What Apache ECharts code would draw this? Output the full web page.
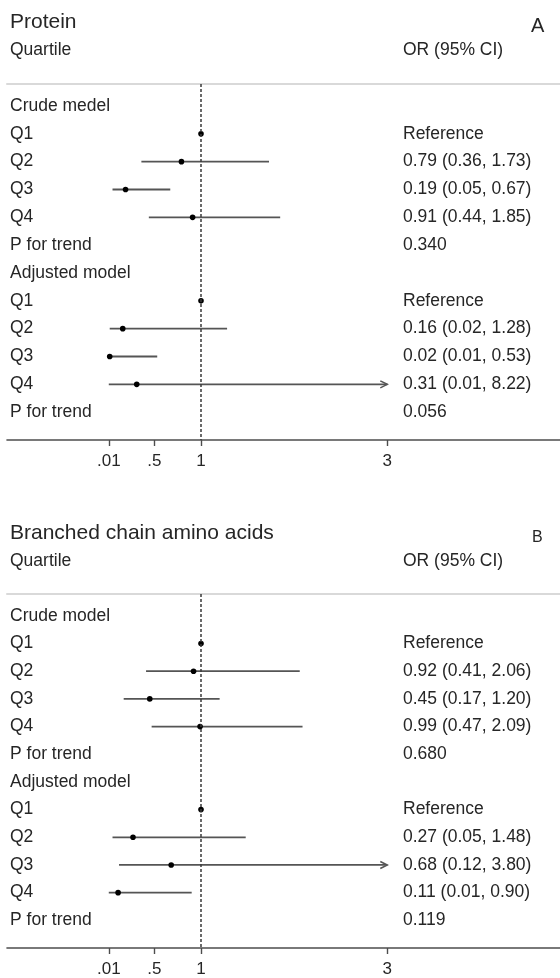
<!DOCTYPE html>
<html><head><meta charset="utf-8">
<script src="https://cdn.jsdelivr.net/npm/echarts@6/dist/echarts.min.js"></script>
<style>html,body{margin:0;padding:0;background:#fff}#c{width:560px;height:978px}</style>
</head><body><div id="c"></div>
<script>
// ---- data ----
const rowLabelsA = ['Crude medel','Q1','Q2','Q3','Q4','P for trend','Adjusted model','Q1','Q2','Q3','Q4','P for trend'];
const rowLabelsB = ['Crude model','Q1','Q2','Q3','Q4','P for trend','Adjusted model','Q1','Q2','Q3','Q4','P for trend'];
const orA   = [null, 1, 0.79, 0.19, 0.91, null, null, 1, 0.16, 0.02, 0.31, null];
const lowA  = [null, null, 0.36, 0.05, 0.44, null, null, null, 0.02, 0.01, 0.01, null];
const highA = [null, null, 1.73, 0.67, 1.85, null, null, null, 1.28, 0.53, 8.22, null];
const pTrendA = ['0.340', '0.056'];
const orB   = [null, 1, 0.92, 0.45, 0.99, null, null, 1, 0.27, 0.68, 0.11, null];
const lowB  = [null, null, 0.41, 0.17, 0.47, null, null, null, 0.05, 0.12, 0.01, null];
const highB = [null, null, 2.06, 1.20, 2.09, null, null, null, 1.48, 3.80, 0.90, null];
const pTrendB = ['0.680', '0.119'];
const tickValues = [0.01, 0.5, 1, 3];
const tickLabels = ['.01', '.5', '1', '3'];
const refValue = 1;
const axisCap = 3;

// ---- helpers ----
const FONT = '"Liberation Sans", Arial, Helvetica, sans-serif';
const TXT = '#262626';
const LINE = '#555555';

function rightTexts(labels, ors, lows, highs, pTrend) {
  let p = 0;
  return labels.map((l, i) => {
    if (l === 'P for trend') return pTrend[p++];
    if (ors[i] == null) return '';
    if (lows[i] == null) return 'Reference';
    return ors[i].toFixed(2) + ' (' + lows[i].toFixed(2) + ', ' + highs[i].toFixed(2) + ')';
  });
}

function makeRender(labels, ors, lows, highs, rights) {
  return function (params, api) {
    const i = params.dataIndex;
    const cs = params.coordSys;
    const y = api.coord([0, i])[1];
    const children = [];
    children.push({ type: 'text', style: { text: labels[i], x: cs.x + 3, y: y, align: 'left', verticalAlign: 'middle', fontSize: 17.5, fontFamily: FONT, fill: TXT } });
    children.push({ type: 'text', style: { text: rights[i], x: cs.x + 396, y: y, align: 'left', verticalAlign: 'middle', fontSize: 17.5, fontFamily: FONT, fill: TXT } });
    if (lows[i] != null) {
      const x0 = api.coord([lows[i], i])[0];
      const x1 = api.coord([Math.min(highs[i], axisCap), i])[0];
      children.push({ type: 'line', shape: { x1: x0, y1: y, x2: x1, y2: y }, style: { stroke: LINE, lineWidth: 1.8 } });
      if (highs[i] > axisCap) {
        children.push({ type: 'polyline', shape: { points: [[x1 - 7, y - 3.5], [x1, y], [x1 - 7, y + 3.5]] }, style: { stroke: LINE, lineWidth: 1.5, fill: null } });
      }
    }
    if (ors[i] != null) {
      const p = api.coord([ors[i], i]);
      children.push({ type: 'circle', shape: { cx: p[0], cy: p[1], r: 2.8 }, style: { fill: '#000' } });
    }
    return { type: 'group', children };
  };
}

const rightA = rightTexts(rowLabelsA, orA, lowA, highA, pTrendA);
const rightB = rightTexts(rowLabelsB, orB, lowB, highB, pTrendB);

const X_MIN = -1.0827, X_MAX = 4.854;
const Y_MIN = -0.79, Y_MAX = 12.0;

function mainX(gi) {
  return {
    type: 'value', gridIndex: gi, position: 'bottom', min: X_MIN, max: X_MAX,
    splitLine: { show: false },
    axisLine: { show: true, onZero: false, lineStyle: { color: '#4d4d4d', width: 1.6 } },
    axisTick: { show: true, length: 6, inside: false, customValues: tickValues, lineStyle: { color: '#4d4d4d', width: 1.4 } },
    axisLabel: { show: true, margin: 13, customValues: tickValues, color: TXT, fontSize: 17, fontFamily: FONT,
      formatter: v => { const k = tickValues.findIndex(t => Math.abs(t - v) < 1e-9); return k >= 0 ? tickLabels[k] : ''; } }
  };
}
function sepX(gi) {
  return {
    type: 'value', gridIndex: gi, position: 'top', min: X_MIN, max: X_MAX,
    splitLine: { show: false }, axisTick: { show: false }, axisLabel: { show: false },
    axisLine: { show: true, onZero: false, lineStyle: { color: '#d9d9d9', width: 2 } }
  };
}
function yAx(gi) {
  return { type: 'value', gridIndex: gi, inverse: true, min: Y_MIN, max: Y_MAX, show: false, splitLine: { show: false } };
}
function titleItem(text, left, top, size) {
  return { text, left, top, padding: 0, textStyle: { fontSize: size, fontWeight: 'normal', color: TXT, fontFamily: FONT, lineHeight: size } };
}
function refLine(xi, yi) {
  return {
    type: 'line', xAxisIndex: xi, yAxisIndex: yi, data: [], z: 1, silent: true,
    markLine: { silent: true, symbol: ['none', 'none'], animation: false, label: { show: false },
      lineStyle: { type: [3, 2], color: '#3a3a3a', width: 1.5 }, data: [{ xAxis: refValue }] }
  };
}
const rows = rowLabelsA.map((_, i) => [0, i]);

const chart = echarts.init(document.getElementById('c'), null, { renderer: 'canvas' });
chart.setOption({
  animation: false,
  backgroundColor: '#fff',
  title: [
    titleItem('Protein', 10, 12, 21),
    titleItem('Quartile', 10, 41, 17.5),
    titleItem('OR (95% CI)', 403, 41, 17.5),
    titleItem('A', 531, 16, 20),
    titleItem('Branched chain amino acids', 10, 523, 21),
    titleItem('Quartile', 10, 552, 17.5),
    titleItem('OR (95% CI)', 403, 552, 17.5),
    titleItem('B', 532, 530, 16)
  ],
  grid: [
    { left: 7, right: 0, top: 84, height: 356 },
    { left: 7, right: 0, top: 594, height: 356 }
  ],
  xAxis: [mainX(0), sepX(0), mainX(1), sepX(1)],
  yAxis: [yAx(0), yAx(1)],
  series: [
    refLine(0, 0),
    refLine(2, 1),
    { type: 'custom', xAxisIndex: 0, yAxisIndex: 0, z: 3, silent: true, data: rows, encode: { x: 0, y: 1 },
      renderItem: makeRender(rowLabelsA, orA, lowA, highA, rightA) },
    { type: 'custom', xAxisIndex: 2, yAxisIndex: 1, z: 3, silent: true, data: rows, encode: { x: 0, y: 1 },
      renderItem: makeRender(rowLabelsB, orB, lowB, highB, rightB) }
  ]
});
</script></body></html>
